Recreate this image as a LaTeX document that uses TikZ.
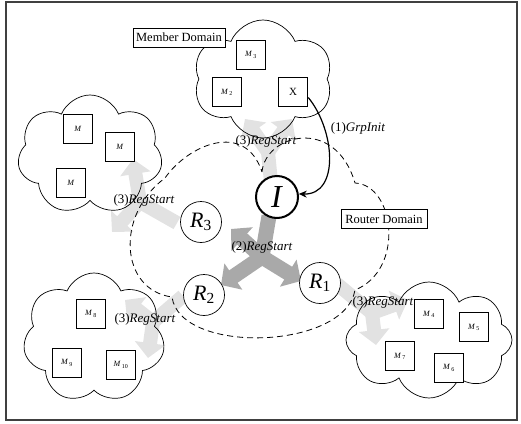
\documentclass[tikz,border=0pt]{standalone}
\usepackage{fontspec}
\setmainfont{Liberation Serif}
\usetikzlibrary{shapes.symbols,arrows.meta}

\definecolor{darkband}{HTML}{A9A9A9}
\definecolor{lightband}{HTML}{E2E2E2}

\tikzset{
  domaincloud/.style={cloud, cloud puffs=#1, cloud puff arc=135, cloud ignores aspect,
    draw, line width=0.7pt, inner sep=0pt},
  domaincloud/.default=7,
  routerline/.style={line width=0.8pt, dash pattern=on 6pt off 4pt},
  mbox/.style={draw, fill=white, line width=0.6pt, minimum size=29pt, inner sep=0pt,
    font=\fontsize{8}{9}\selectfont},
  xbox/.style={mbox, line width=1.6pt, font=\fontsize{11}{12}\selectfont},
  rnode/.style={circle, draw, fill=white, line width=0.7pt, minimum size=41pt, inner sep=0pt,
    font=\fontsize{22}{24}\selectfont},
  inode/.style={circle, draw, fill=white, line width=2pt, minimum size=42pt, inner sep=0pt,
    font=\fontsize{32}{34}\selectfont},
  tagbox/.style={draw, fill=white, line width=0.7pt, minimum height=19pt, inner sep=3pt,
    font=\fontsize{12.5}{14}\selectfont},
  steplabel/.style={font=\fontsize{13}{15}\selectfont, inner sep=0pt},
  lightfork/.style={draw=lightband, line width=14pt},
  lighthead/.style={lightfork, -{Triangle[width=30pt,length=15pt]}},
  darkfork/.style={draw=darkband, line width=15pt},
  darkhead/.style={darkfork, -{Triangle[width=31pt,length=15pt]}},
}

\begin{document}
\begin{tikzpicture}[x=1pt,y=-1pt]
\useasboundingbox (0,0) rectangle (521,423);
\draw[line width=1.2pt, black!75] (6,2) rectangle (517,420);

% ---- (3) RegStart forked arrows, behind everything
% top
\coordinate (tJ) at (268,152);
\coordinate (tT) at (271,182);
\coordinate (tA) at (245,119);
\coordinate (tB) at (292,119);
% left
\coordinate (lJ) at (140,202);
\coordinate (lT) at (177,223);
\coordinate (lA) at (133,159);
\coordinate (lB) at (112,232);
% bottom left
\coordinate (bJ) at (153,322);
\coordinate (bT) at (183,296);
\coordinate (bA) at (125,300);
\coordinate (bB) at (148,358);
% bottom right
\coordinate (rJ) at (372,313);
\coordinate (rT) at (337,284);
\coordinate (rA) at (376,345);
\coordinate (rB) at (408,300);

\foreach \j/\t/\a/\b in {tJ/tT/tA/tB, lJ/lT/lA/lB, bJ/bT/bA/bB, rJ/rT/rA/rB}{
  \draw[lightfork] (\t) -- (\j);
  \fill[lightband] (\j) circle (7pt);
  \draw[lighthead] (\j) -- (\a);
  \draw[lighthead] (\j) -- (\b);
}

% ---- (2) RegStart forked arrow inside the router domain
\coordinate (cJ) at (262,257);
\coordinate (cT) at (269,216);
\coordinate (cA) at (231,229);
\coordinate (cB) at (221,285);
\coordinate (cC) at (301,281);
\draw[darkfork] (cT) -- (cJ);
\fill[darkband] (cJ) circle (7.5pt);
\draw[darkhead] (cJ) -- (cA);
\draw[darkhead] (cJ) -- (cB);
\draw[darkhead] (cJ) -- (cC);

% ---- router domain outline
\draw[routerline] (262,172)
  .. controls (265,135) and (335,115) .. (355,183)
  .. controls (395,185) and (405,270) .. (355,290)
  .. controls (345,350) and (180,355) .. (172,297)
  .. controls (120,290) and (115,215) .. (165,178)
  .. controls (188,145) and (245,120) .. cycle;

% ---- member domain clouds
\node[domaincloud=6, minimum width=140pt, minimum height=118pt] (ctop) at (263,79) {};
\node[domaincloud=7, minimum width=145pt, minimum height=120pt] (cleft) at (90,155) {};
\node[domaincloud=7, minimum width=142pt, minimum height=130pt] (cbl) at (94,338) {};
\node[domaincloud=8, minimum width=166pt, minimum height=116pt] (cbr) at (429,340) {};

% ---- members
\node[mbox] (m3) at (251,55) {\textit{M}\textsubscript{\,3}};
\node[mbox] (m2) at (227,92) {\textit{M}\textsubscript{\,2}};
\node[xbox] (X) at (293,92) {X};

\node[mbox] (ma) at (78,129) {\textit{M}};
\node[mbox] (mb) at (120,147) {\textit{M}};
\node[mbox] (mc) at (71,183) {\textit{M}};

\node[mbox] (m8) at (91,314) {\textit{M}\textsubscript{\,8}};
\node[mbox] (m9) at (67,363) {\textit{M}\textsubscript{\,9}};
\node[mbox] (m10) at (121,365) {\textit{M}\textsubscript{\,10}};

\node[mbox] (m4) at (429,314) {\textit{M}\textsubscript{\,4}};
\node[mbox] (m5) at (474,327) {\textit{M}\textsubscript{\,5}};
\node[mbox] (m7) at (400,356) {\textit{M}\textsubscript{\,7}};
\node[mbox] (m6) at (449,368) {\textit{M}\textsubscript{\,6}};

% ---- routers and the initiator
\node[inode] (I) at (277,197) {\textit{I}};
\node[rnode] (r3) at (201,222) {\textit{R}\textsubscript{3}};
\node[rnode] (r2) at (204,295) {\textit{R}\textsubscript{2}};
\node[rnode] (r1) at (320,283) {\textit{R}\textsubscript{1}};

% ---- domain tags
\node[tagbox, minimum width=92pt] (tagm) at (179,37.5) {Member Domain};
\node[tagbox, minimum width=86pt] (tagr) at (384,219) {Router Domain};

% ---- (1) GrpInit
\draw[line width=1.2pt, -{Stealth[length=8pt,width=7pt]}]
  (X.-20) .. controls (335,130) and (340,195) .. (I.8);

% ---- step labels
\node[steplabel] (s1) at (358,128) {(1)\textit{GrpInit}};
\node[steplabel] (s2) at (262,247) {(2)\textit{RegStart}};
\node[steplabel] (s3t) at (266,141) {(3)\textit{RegStart}};
\node[steplabel] (s3l) at (144,200) {(3)\textit{RegStart}};
\node[steplabel] (s3b) at (145,319) {(3)\textit{RegStart}};
\node[steplabel] (s3r) at (383,302) {(3)\textit{RegStart}};
\end{tikzpicture}
\end{document}
